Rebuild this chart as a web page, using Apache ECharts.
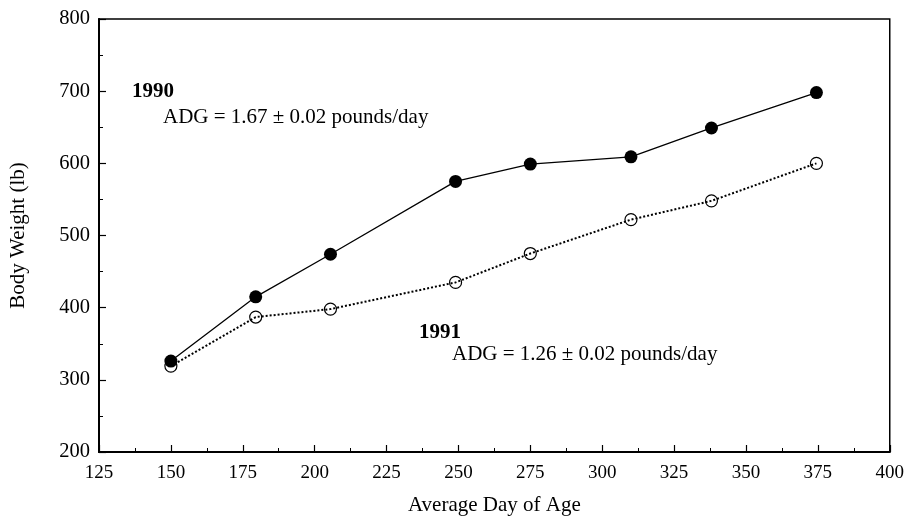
<!DOCTYPE html>
<html>
<head>
<meta charset="utf-8">
<script src="https://cdn.jsdelivr.net/npm/echarts@6/dist/echarts.min.js"></script>
<style>
html,body{margin:0;padding:0;background:#fff;}
#chart{width:907px;height:521px;}
</style>
</head>
<body>
<div id="chart"></div>
<script>
const days = [150, 179.5, 205.5, 249, 275, 310, 338, 374.5];
const weight1990 = [326, 415, 474, 575, 599, 609, 649, 698];
const weight1991 = [319, 387, 398, 435, 475, 522, 548, 600];
const xTicks = [125, 150, 175, 200, 225, 250, 275, 300, 325, 350, 375, 400];
const yTicks = [200, 300, 400, 500, 600, 700, 800];

const FONT = '"Liberation Serif", "DejaVu Serif", serif';

const chart = echarts.init(document.getElementById('chart'));
chart.setOption({
  animation: false,
  backgroundColor: '#fff',
  textStyle: { fontFamily: FONT, color: '#000' },
  grid: { left: 99, right: 14, top: 19, bottom: 66, show: true, borderColor: '#000', borderWidth: 1.5, backgroundColor: 'transparent' },
  xAxis: {
    type: 'value',
    min: xTicks[0], max: xTicks[xTicks.length - 1], interval: 25,
    name: 'Average Day of Age', nameLocation: 'middle', nameGap: 43,
    nameTextStyle: { fontFamily: FONT, fontSize: 21, color: '#000' },
    axisLine: { show: true, lineStyle: { color: '#000', width: 2 } },
    axisTick: { show: true, inside: true, length: 7, lineStyle: { color: '#000', width: 1.2 } },
    minorTick: { show: true, splitNumber: 2, length: 4, lineStyle: { color: '#000', width: 1 } },
    splitLine: { show: false },
    axisLabel: { fontFamily: FONT, fontSize: 19, color: '#000', margin: 12 }
  },
  yAxis: {
    type: 'value',
    min: yTicks[0], max: yTicks[yTicks.length - 1], interval: 100,
    name: 'Body Weight (lb)', nameLocation: 'middle', nameGap: 70, nameRotate: 90,
    nameTextStyle: { fontFamily: FONT, fontSize: 21, color: '#000' },
    axisLine: { show: true, lineStyle: { color: '#000', width: 2 } },
    axisTick: { show: true, inside: true, length: 7, lineStyle: { color: '#000', width: 1.2 } },
    minorTick: { show: true, splitNumber: 2, length: 4, lineStyle: { color: '#000', width: 1 } },
    splitLine: { show: false },
    axisLabel: { fontFamily: FONT, fontSize: 20.5, color: '#000', margin: 9 }
  },
  series: [
    {
      name: '1990', type: 'line',
      data: days.map((d, i) => [d, weight1990[i]]),
      symbol: 'circle', symbolSize: 13,
      itemStyle: { color: '#000' },
      lineStyle: { color: '#000', width: 1.3, type: 'solid' },
      z: 3
    },
    {
      name: '1991', type: 'line',
      data: days.map((d, i) => [d, weight1991[i]]),
      symbol: 'circle', symbolSize: 12,
      itemStyle: { color: 'rgba(255,255,255,0)', borderColor: '#000', borderWidth: 1.2 },
      lineStyle: { color: '#000', width: 2, type: [2, 2] },
      z: 2
    }
  ],
  graphic: [
    { type: 'text', left: 132, top: 81, style: { text: '1990', font: 'bold 21px ' + FONT, fill: '#000' } },
    { type: 'text', left: 163, top: 107, style: { text: 'ADG = 1.67 \u00B1 0.02 pounds/day', font: '21px ' + FONT, fill: '#000' } },
    { type: 'text', left: 419, top: 322, style: { text: '1991', font: 'bold 21px ' + FONT, fill: '#000' } },
    { type: 'text', left: 452, top: 344, style: { text: 'ADG = 1.26 \u00B1 0.02 pounds/day', font: '21px ' + FONT, fill: '#000' } }
  ]
});
</script>
</body>
</html>
